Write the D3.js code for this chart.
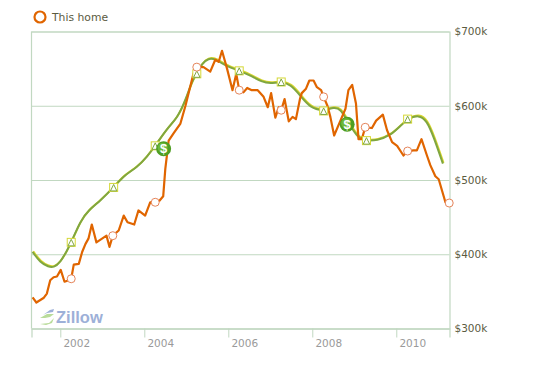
<!DOCTYPE html>
<html>
<head>
<meta charset="utf-8">
<script src="https://cdn.jsdelivr.net/npm/d3@7"></script>
<style>
  html, body { margin: 0; padding: 0; background: #fff; }
  svg { display: block; font-family: "DejaVu Sans", sans-serif; }
</style>
</head>
<body>
<div id="chart"></div>
<script>
// this home (thousands of dollars)
const homeYears = [2001.34,2001.43,2001.60,2001.68,2001.76,2001.84,2001.92,2002.01,2002.10,2002.20,2002.26,2002.32,2002.44,2002.52,2002.60,2002.67,2002.75,2002.86,2003.10,2003.17,2003.25,2003.39,2003.51,2003.60,2003.76,2003.86,2004.02,2004.14,2004.26,2004.36,2004.45,2004.50,2004.58,2004.70,2004.86,2004.98,2005.17,2005.25,2005.41,2005.57,2005.69,2005.77,2005.85,2005.97,2006.10,2006.19,2006.26,2006.36,2006.45,2006.56,2006.70,2006.84,2006.94,2007.02,2007.12,2007.20,2007.26,2007.34,2007.44,2007.53,2007.61,2007.71,2007.75,2007.85,2007.93,2008.03,2008.11,2008.21,2008.27,2008.36,2008.43,2008.52,2008.67,2008.79,2008.86,2008.95,2009.04,2009.10,2009.18,2009.26,2009.42,2009.52,2009.68,2009.78,2009.90,2010.02,2010.17,2010.27,2010.41,2010.49,2010.60,2010.73,2010.81,2010.93,2011.01,2011.17,2011.26];
const homeValues = [342,335,341,347,365,369,370,379,363,365,367,386,387,403,414,421,440,416,425,410,425,432,452,443,440,459,452,470,470,472,478,515,553,563,576,600,643,652,652,646,662,659,674,650,621,643,621,618,624,621,621,612,598,617,584,598,594,609,579,585,582,610,617,623,634,634,625,621,612,600,585,560,580,596,621,628,603,555,555,571,570,580,588,567,551,546,533,539,540,540,555,533,520,505,501,470,469];

// green regional line
const regionYears = [2001.34,2001.52,2001.72,2001.84,2002.00,2002.16,2002.26,2002.48,2002.67,2002.95,2003.27,2003.51,2003.83,2004.06,2004.26,2004.55,2004.78,2004.98,2005.14,2005.25,2005.37,2005.53,2005.69,2005.97,2006.26,2006.52,2006.80,2007.00,2007.26,2007.48,2007.71,2007.95,2008.27,2008.51,2008.67,2008.83,2009.10,2009.29,2009.54,2009.86,2010.10,2010.27,2010.53,2010.73,2010.89,2011.11];
const regionValues = [403,389,383,382,389,405,416,445,459,472,490,506,517,531,546,570,583,607,634,643,657,664,663,653,647,641,632,630,632,629,614,597,593,598,596,580,555,553,553,560,573,582,588,580,558,522];

// yearly markers on both lines
const homeMarkYears = [2002.26,2003.25,2004.26,2005.25,2006.26,2007.26,2008.27,2009.26,2010.27,2011.26];
const homeMarkValues = [367,425,470,652,621,594,612,571,539,469];
const regionMarkYears = [2002.26,2003.27,2004.26,2005.25,2006.26,2007.26,2008.27,2009.29,2010.27];
const regionMarkValues = [416,490,546,643,647,632,593,553,582];

// sale markers
const saleYears = [2004.46,2008.83];
const saleValues = [542,575];

const xTicks = [2002,2004,2006,2008,2010];
const yTicks = [300,400,500,600,700];

const width = 545, height = 372;
const plotLeft = 31.5, plotRight = 449.5, plotTop = 31.5, plotBottom = 328.5;
const gridColor = '#c1d8c1';
const orange = '#e06500';

const svg = d3.select('#chart').append('svg')
    .attr('width', width)
    .attr('height', height);

const x = d3.scaleLinear().domain([2001.314, 2011.267]).range([plotLeft, plotRight]);
const y = d3.scaleLinear().domain([300, 700]).range([plotBottom, plotTop]);

// grid and right axis
const yAxis = svg.append('g')
    .attr('transform', `translate(${plotRight},0)`)
    .call(d3.axisRight(y).tickValues(yTicks).tickSize(-(plotRight - plotLeft)).tickFormat(d => '$' + d + 'k'));
yAxis.selectAll('.tick line').attr('stroke', gridColor).attr('stroke-width', 1);
yAxis.selectAll('.tick text')
    .attr('x', 5)
    .attr('fill', '#5b5b3f')
    .style('font-size', '10.5px')
    .style('font-family', '"DejaVu Sans", sans-serif');
yAxis.select('.domain').attr('stroke', gridColor).attr('stroke-width', 1.2);

svg.append('line')
    .attr('x1', plotLeft).attr('x2', plotLeft)
    .attr('y1', plotTop).attr('y2', plotBottom)
    .attr('stroke', gridColor)
    .attr('stroke-width', 1.2);

const xAxis = svg.append('g')
    .attr('transform', `translate(0,${plotBottom})`)
    .call(d3.axisBottom(x).tickValues(xTicks).tickSize(9).tickFormat(d3.format('d')));
xAxis.select('.domain').attr('stroke', gridColor).attr('stroke-width', 1.2);
xAxis.selectAll('.tick line').attr('stroke', gridColor);
xAxis.selectAll('.tick text')
    .attr('dx', 16)
    .attr('y', 11)
    .attr('fill', '#9a9a9a')
    .style('font-size', '10.5px')
    .style('font-family', '"DejaVu Sans", sans-serif');

// zillow logo
const logo = svg.append('g').attr('transform', 'translate(40,309)');
logo.append('path').attr('d', 'M0,9 L7,5 L14,5 L10,8 L5,9 Z').attr('fill', '#b9dc9a');
logo.append('path').attr('d', 'M3,6 L10,1 L14,0 L13,3 L7,4 Z').attr('fill', '#9db0d8');
logo.append('path').attr('d', 'M0,15 L9,14 L14,9 L12,14 L6,16 Z').attr('fill', '#b9dc9a');
logo.append('text')
    .attr('x', 16).attr('y', 14)
    .attr('fill', '#9db0d8')
    .style('font-family', '"Liberation Sans", sans-serif')
    .style('font-weight', 'bold')
    .style('font-size', '16.5px')
    .text('Zillow');

const regionPts = regionYears.map((d, i) => [d, regionValues[i]]);
const homePts = homeYears.map((d, i) => [d, homeValues[i]]);

const smooth = d3.line().x(d => x(d[0])).y(d => y(d[1])).curve(d3.curveBasis);
const straight = d3.line().x(d => x(d[0])).y(d => y(d[1]));

// yellow edge under the green line
svg.append('path')
    .attr('d', smooth(regionPts))
    .attr('transform', 'translate(0.6,-0.8)')
    .attr('fill', 'none')
    .attr('stroke', '#d9d62e')
    .attr('stroke-width', 2);
svg.append('path')
    .attr('d', smooth(regionPts))
    .attr('fill', 'none')
    .attr('stroke', '#7fa640')
    .attr('stroke-width', 2);

svg.append('path')
    .attr('d', straight(homePts))
    .attr('fill', 'none')
    .attr('stroke', orange)
    .attr('stroke-width', 2.2)
    .attr('stroke-linejoin', 'round');

// square + triangle markers
const tri = svg.selectAll('.regionMark')
    .data(regionMarkYears)
    .enter().append('g')
    .attr('class', 'regionMark')
    .attr('transform', (d, i) => `translate(${x(d)},${y(regionMarkValues[i])})`);
tri.append('rect')
    .attr('x', -4).attr('y', -4)
    .attr('width', 8).attr('height', 8)
    .attr('fill', '#fff')
    .attr('stroke', '#d5d835');
tri.append('path')
    .attr('d', 'M0,-3 L3.2,3.5 L-3.2,3.5 Z')
    .attr('fill', '#fff')
    .attr('stroke', '#7fa640');

svg.selectAll('.homeMark')
    .data(homeMarkYears)
    .enter().append('circle')
    .attr('class', 'homeMark')
    .attr('cx', d => x(d))
    .attr('cy', (d, i) => y(homeMarkValues[i]))
    .attr('r', 4)
    .attr('fill', '#fff')
    .attr('stroke', '#e5845a');

// sale markers
const sale = svg.selectAll('.sale')
    .data(saleYears)
    .enter().append('g')
    .attr('class', 'sale')
    .attr('transform', (d, i) => `translate(${x(d)},${y(saleValues[i])})`);
sale.append('circle').attr('r', 7.5).attr('fill', '#4f9e22');
sale.append('circle').attr('r', 5).attr('cx', -1).attr('cy', -1).attr('fill', '#6cb83a');
sale.append('text')
    .attr('text-anchor', 'middle')
    .attr('y', 4.5)
    .attr('fill', '#fff')
    .style('font-family', '"Liberation Sans", sans-serif')
    .style('font-weight', 'bold')
    .style('font-size', '13px')
    .text('$');

// legend
svg.append('circle')
    .attr('cx', 40).attr('cy', 17).attr('r', 5.5)
    .attr('fill', '#fff')
    .attr('stroke', orange)
    .attr('stroke-width', 2.2);
svg.append('text')
    .attr('x', 52).attr('y', 21)
    .attr('fill', '#5b5b3f')
    .style('font-size', '10.8px')
    .text('This home');
</script>
</body>
</html>
